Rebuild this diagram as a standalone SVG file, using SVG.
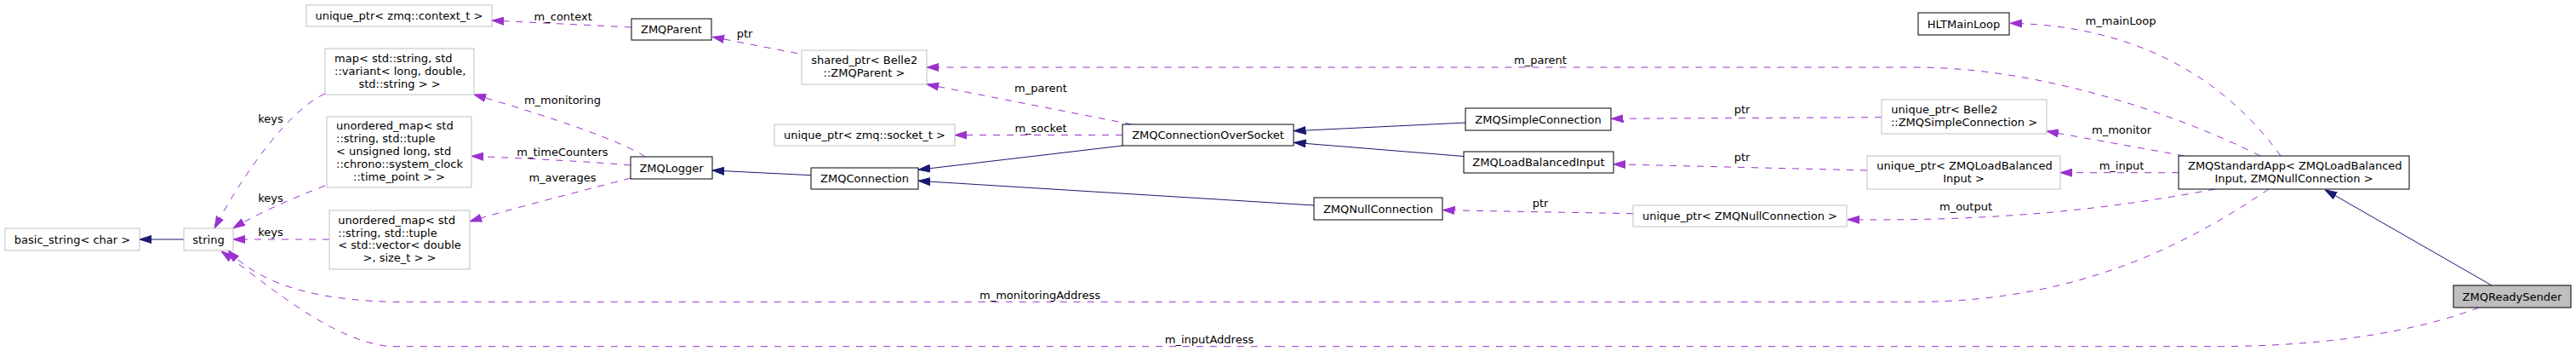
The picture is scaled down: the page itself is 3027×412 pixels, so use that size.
<svg xmlns="http://www.w3.org/2000/svg" width="3027" height="412" viewBox="0 0 3027 412">
<style>
text{font-family:"DejaVu Sans","Liberation Sans",sans-serif;font-size:13px;fill:#000}
.c{text-anchor:middle}
.s{text-anchor:start}
.doc{fill:#fff;stroke:#000;stroke-width:1}
.ext{fill:#fff;stroke:#bfbfbf;stroke-width:1}
.cur{fill:#bfbfbf;stroke:#000;stroke-width:1}
.inh{fill:none;stroke:#191970;stroke-width:1;marker-end:url(#ab)}
.use{fill:none;stroke:#9a32cd;stroke-width:1;stroke-dasharray:8,8;marker-end:url(#ap)}
</style>
<defs>
<marker id="ab" viewBox="0 0 14 10" refX="14" refY="5" markerWidth="14" markerHeight="10" markerUnits="userSpaceOnUse" orient="auto"><path d="M0,0.5 L14,5 L0,9.5 z" fill="#191970" stroke="#191970" stroke-width="1" stroke-dasharray="none"/></marker>
<marker id="ap" viewBox="0 0 14 10" refX="14" refY="5" markerWidth="14" markerHeight="10" markerUnits="userSpaceOnUse" orient="auto"><path d="M0,0.5 L14,5 L0,9.5 z" fill="#9a32cd" stroke="#9a32cd" stroke-width="1" stroke-dasharray="none"/></marker>
</defs>
<rect width="3027" height="412" fill="#fff"/>
<g id="connectors">
<path class="inh" d="M216,281 L164,281"/>
<path class="inh" d="M953,205.7 L837,200"/>
<path class="inh" d="M1319,171 L1079,199.3"/>
<path class="inh" d="M1544,241 L1079,212.3"/>
<path class="inh" d="M1722,144 L1520.5,153.7"/>
<path class="inh" d="M1720,183.5 L1520.5,167.3"/>
<path class="inh" d="M2928,335 L2732,222.7"/>
<path class="use" d="M382,110 C340,128 285,205 252,268"/>
<path class="use" d="M382,218 C340,234 300,252 274,268"/>
<path class="use" d="M387,281 L274,281"/>
<path class="use" d="M742,32 L578,24"/>
<path class="use" d="M937,62.7 L837,43.3"/>
<path class="use" d="M758,184 C730,165 640,135 557,111"/>
<path class="use" d="M741,194 C700,190 600,185 554,183.3"/>
<path class="use" d="M741,209 C700,220 600,245 552,260"/>
<path class="use" d="M1330,146 L1089,99"/>
<path class="use" d="M1319,158.5 L1122,158.5"/>
<path class="use" d="M2656,183 C2560,135 2400,79 2250,79 L1089,79"/>
<path class="use" d="M2680,183 C2620,100 2520,30 2362,27.3"/>
<path class="use" d="M2567,183 L2405,154"/>
<path class="use" d="M2560,202.7 L2421,202.7"/>
<path class="use" d="M2603,222 C2480,245 2350,260 2171,257.7"/>
<path class="use" d="M2211,137.7 L1893.5,139.3"/>
<path class="use" d="M2194,200 L1896,192.7"/>
<path class="use" d="M1919,250.7 L1695.5,246.7"/>
<path class="use" d="M2666,222 C2580,280 2450,354.3 2250,354.3 L460,354.3 C380,352 310,338 268,294"/>
<path class="use" d="M2913,361 C2850,385 2750,406.7 2600,406.7 L460,406.7 C390,402 310,330 260,295"/>
<text class="c" x="318" y="144">keys</text>
<text class="c" x="318" y="237.3">keys</text>
<text class="c" x="318" y="277.3">keys</text>
<text class="c" x="661.7" y="23.5">m_context</text>
<text class="c" x="875" y="44">ptr</text>
<text class="c" x="661" y="121.7">m_monitoring</text>
<text class="c" x="661" y="183.3">m_timeCounters</text>
<text class="c" x="661" y="213.3">m_averages</text>
<text class="c" x="1223" y="108.3">m_parent</text>
<text class="c" x="1223" y="155">m_socket</text>
<text class="c" x="1810" y="75">m_parent</text>
<text class="c" x="2047" y="133.3">ptr</text>
<text class="c" x="2047" y="189.3">ptr</text>
<text class="c" x="1810" y="243.3">ptr</text>
<text class="c" x="2492" y="29.3">m_mainLoop</text>
<text class="c" x="2493" y="157">m_monitor</text>
<text class="c" x="2493" y="199">m_input</text>
<text class="c" x="2310" y="247">m_output</text>
<text class="c" x="1222" y="351">m_monitoringAddress</text>
<text class="c" x="1421" y="402.7">m_inputAddress</text>
</g>
<g id="node-basic_string"><rect class="ext" x="6" y="268" width="158" height="26"/><text class="c" x="85" y="285.5">basic_string&lt; char &gt;</text></g>
<g id="node-string"><rect class="ext" x="216" y="268" width="58" height="26"/><text class="c" x="245" y="285.5">string</text></g>
<g id="node-uptr-context"><rect class="ext" x="360" y="6" width="218" height="25"/><text class="c" x="469" y="23">unique_ptr&lt; zmq::context_t &gt;</text></g>
<g id="node-map"><rect class="ext" x="382" y="57" width="175" height="54"/><text class="s" x="393" y="72.8">map&lt; std::string, std</text><text class="s" x="393" y="87.8">::variant&lt; long, double,</text><text class="c" x="469.5" y="102.8">std::string &gt; &gt;</text></g>
<g id="node-umap-time"><rect class="ext" x="384" y="137" width="170" height="83"/><text class="s" x="395" y="152">unordered_map&lt; std</text><text class="s" x="395" y="167">::string, std::tuple</text><text class="s" x="395" y="182">&lt; unsigned long, std</text><text class="s" x="395" y="196.5">::chrono::system_clock</text><text class="c" x="469" y="211.5">::time_point &gt; &gt;</text></g>
<g id="node-umap-avg"><rect class="ext" x="387" y="247" width="165" height="69"/><text class="s" x="397.3" y="263">unordered_map&lt; std</text><text class="s" x="397.3" y="277.5">::string, std::tuple</text><text class="s" x="397.3" y="292">&lt; std::vector&lt; double</text><text class="c" x="469.5" y="307">&gt;, size_t &gt; &gt;</text></g>
<g id="node-ZMQParent"><rect class="doc" x="742" y="22" width="94" height="25"/><text class="c" x="789" y="39">ZMQParent</text></g>
<g id="node-ZMQLogger"><rect class="doc" x="741" y="184" width="96" height="26"/><text class="c" x="789" y="201.5">ZMQLogger</text></g>
<g id="node-sptr-parent"><rect class="ext" x="942" y="59" width="147" height="40"/><text class="s" x="953.3" y="75">shared_ptr&lt; Belle2</text><text class="c" x="1015.5" y="89.5">::ZMQParent &gt;</text></g>
<g id="node-uptr-socket"><rect class="ext" x="910" y="146" width="212" height="25"/><text class="c" x="1016" y="163">unique_ptr&lt; zmq::socket_t &gt;</text></g>
<g id="node-ZMQConnection"><rect class="doc" x="953" y="197" width="126" height="25"/><text class="c" x="1016" y="214">ZMQConnection</text></g>
<g id="node-ZMQConnectionOverSocket"><rect class="doc" x="1319" y="146" width="201" height="25"/><text class="c" x="1419.5" y="163">ZMQConnectionOverSocket</text></g>
<g id="node-ZMQSimpleConnection"><rect class="doc" x="1722" y="127" width="171" height="26"/><text class="c" x="1807.5" y="144.5">ZMQSimpleConnection</text></g>
<g id="node-ZMQLoadBalancedInput"><rect class="doc" x="1720" y="178" width="176" height="25"/><text class="c" x="1808" y="195">ZMQLoadBalancedInput</text></g>
<g id="node-ZMQNullConnection"><rect class="doc" x="1544" y="232" width="151" height="26"/><text class="c" x="1619.5" y="249.5">ZMQNullConnection</text></g>
<g id="node-uptr-simple"><rect class="ext" x="2211" y="117" width="194" height="40"/><text class="s" x="2222.3" y="133">unique_ptr&lt; Belle2</text><text class="c" x="2308" y="148">::ZMQSimpleConnection &gt;</text></g>
<g id="node-uptr-lbi"><rect class="ext" x="2194" y="183" width="227" height="39"/><text class="s" x="2205.3" y="198.5">unique_ptr&lt; ZMQLoadBalanced</text><text class="c" x="2307.5" y="213.5">Input &gt;</text></g>
<g id="node-uptr-null"><rect class="ext" x="1919" y="241" width="251" height="25"/><text class="c" x="2044.5" y="258">unique_ptr&lt; ZMQNullConnection &gt;</text></g>
<g id="node-HLTMainLoop"><rect class="doc" x="2254" y="15" width="107" height="26"/><text class="c" x="2307.5" y="32.5">HLTMainLoop</text></g>
<g id="node-ZMQStandardApp"><rect class="doc" x="2560" y="183" width="271" height="39"/><text class="s" x="2571" y="198.5">ZMQStandardApp&lt; ZMQLoadBalanced</text><text class="c" x="2695.5" y="213.5">Input, ZMQNullConnection &gt;</text></g>
<g id="node-ZMQReadySender"><rect class="cur" x="2883" y="335" width="138" height="26"/><text class="c" x="2952" y="352.5">ZMQReadySender</text></g>
</svg>
